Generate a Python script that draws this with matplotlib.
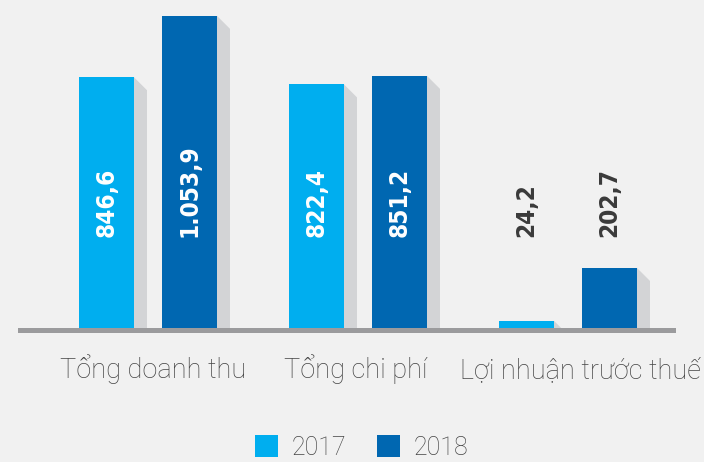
import matplotlib
matplotlib.use("Agg")
import matplotlib.pyplot as plt
from matplotlib.patches import Polygon, Rectangle, Patch

categories = ["Tổng doanh thu", "Tổng chi phí", "Lợi nhuận trước thuế"]
series_names = ["2017", "2018"]
values_2017 = [846.6, 822.4, 24.2]
values_2018 = [1053.9, 851.2, 202.7]
colors = ["#00aeef", "#0067b1"]


def fmt_vn(v):
    s = f"{v:,.1f}"
    return s.replace(",", "X").replace(".", ",").replace("X", ".")


W, H, DPI = 704, 462, 100
fig = plt.figure(figsize=(W / DPI, H / DPI), dpi=DPI, facecolor="#f1f1f1")

ax_bottom_px = 333
ax = fig.add_axes([0, (H - ax_bottom_px) / H, 1, ax_bottom_px / H])
ax.set_facecolor("#f1f1f1")
ax.axis("off")

zero_px = 328
ppu = 0.2962  # pixels per unit
ax.set_ylim(-(ax_bottom_px - zero_px) / ppu, zero_px / ppu)
spacing = 210.0
c0 = 148.0
ax.set_xlim(-c0 / spacing, (W - c0) / spacing)

bar_w = 55 / spacing
off = 41.5 / spacing
x = list(range(len(categories)))
label_shift_px = [5, -2, 12]

fig.canvas.draw()


def shadow(xr, top):
    d = 13
    t = ax.transData
    inv = t.inverted()
    p1 = t.transform((xr, top))
    p2 = inv.transform((p1[0] + d, p1[1] - d))
    ybot = 0
    if p2[1] < ybot:
        frac = (top - ybot) / (top - p2[1])
        xr2 = xr + (p2[0] - xr) * frac
        pts = [(xr, top), (xr2, ybot), (xr, ybot)]
    else:
        pts = [(xr, top), (p2[0], p2[1]), (p2[0], ybot), (xr, ybot)]
    ax.add_patch(Polygon(pts, closed=True, facecolor="#d3d4d6", edgecolor="none", zorder=1))


for vals, sign, col in [(values_2017, -1, colors[0]), (values_2018, 1, colors[1])]:
    xs = [xi + sign * off for xi in x]
    for xi, v in zip(xs, vals):
        shadow(xi + bar_w / 2, v)
    ax.bar(xs, vals, width=bar_w, color=col, zorder=2)

label_base = (zero_px - 237) / ppu
for vals, sign in [(values_2017, -1), (values_2018, 1)]:
    for xi, v in zip(x, vals):
        inside = v > label_base + 60
        ax.text(xi + sign * off, label_base, fmt_vn(v), rotation=90,
                ha="center", va="bottom", fontsize=17.5, fontweight="bold",
                family="DejaVu Sans", fontstretch="condensed",
                color="white" if inside else "#3a3a3a", zorder=3)

# baseline
ax.add_patch(Rectangle((-(c0 - 18) / spacing, -(ax_bottom_px - zero_px) / ppu),
                       (676 - 18) / spacing, (ax_bottom_px - zero_px) / ppu,
                       facecolor="#9b9b9d", edgecolor="none", zorder=4, clip_on=False))

# category labels
for xi, c, sh in zip(x, categories, label_shift_px):
    ax.text(xi + sh / spacing, (zero_px - 378) / ppu, c, ha="center", va="baseline",
            fontsize=19.5, family="Roboto", fontweight="light", color="#444444", clip_on=False)

handles = [Patch(facecolor=colors[i], edgecolor="none", label=series_names[i]) for i in range(2)]
leg = fig.legend(handles=handles, loc="center", bbox_to_anchor=(361.5 / W, (H - 447.5) / H),
                 ncol=2, frameon=False, handlelength=0.92, handleheight=0.92,
                 handletextpad=0.56, columnspacing=1.2,
                 prop={"family": "Roboto", "weight": "light", "size": 18})
for t in leg.get_texts():
    t.set_color("#444444")

fig.savefig("out.png", dpi=DPI, facecolor=fig.get_facecolor())
